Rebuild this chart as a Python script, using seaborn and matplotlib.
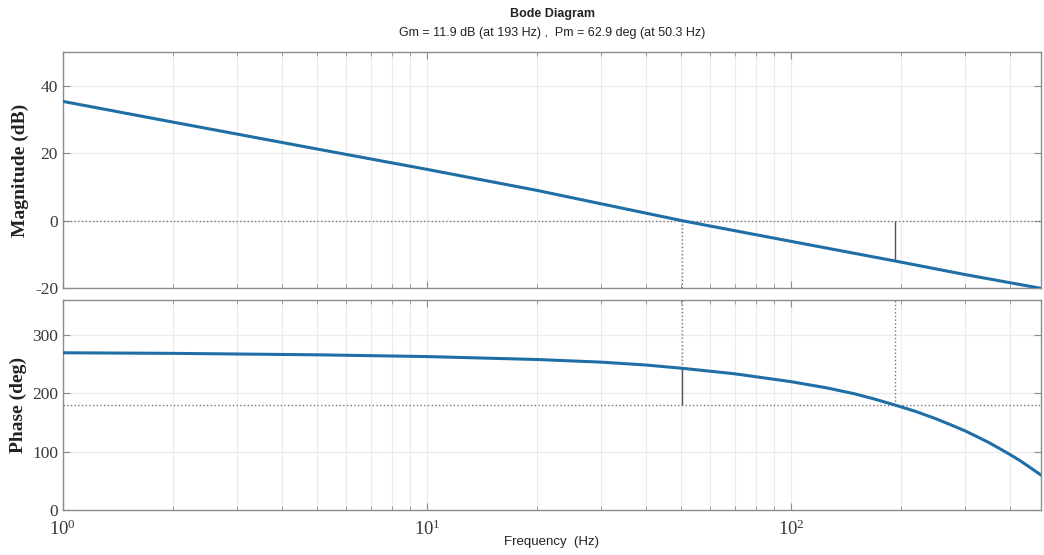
import numpy as np
import pandas as pd
import matplotlib
matplotlib.use("Agg")
import matplotlib.pyplot as plt
import matplotlib.ticker as mticker
import seaborn as sns

# values
freq_mag = [1, 2, 5, 10, 20, 50.3, 100, 193, 300, 486]
mag_db = [35.3, 29.2, 21.2, 15.2, 9.0, 0.0, -6.1, -11.9, -15.9, -20.0]

freq_phase = [1, 2, 5, 10, 20, 30, 40, 50.3, 70, 100, 125, 150, 170, 193, 220, 250,
              275, 300, 325, 350, 375, 400, 425, 450, 486]
phase_deg = [269.5, 268.5, 266, 263, 258, 253.5, 248.5, 242.9, 233.5, 220, 209.5, 199, 190, 180,
             169, 156.5, 146, 136, 125.5, 115.5, 105, 95, 85, 74.5, 60]

xtick_vals = [1, 10, 100]
xtick_labels = [r'$10^{0}$', r'$10^{1}$', r'$10^{2}$']

gm_db, gm_freq = 11.9, 193
pm_deg, pm_freq = 62.9, 50.3

sns.set_style("ticks")
plt.rcParams['mathtext.fontset'] = 'custom'
plt.rcParams['mathtext.rm'] = 'Liberation Serif'
plt.rcParams['mathtext.it'] = 'Liberation Serif:italic'

line_col = '#1f6ea6'
grid_col = '#ebebeb'
frame_col = '#8c8c8c'
text_col = '#3a3a3a'

fig = plt.figure(figsize=(10.44, 5.55), dpi=100)
ax1 = fig.add_axes([0.0603, 0.4805, 0.9367, 0.4263])
ax2 = fig.add_axes([0.0603, 0.0811, 0.9367, 0.3784])

mag_df = pd.DataFrame({'f': freq_mag, 'v': mag_db})
ph_df = pd.DataFrame({'f': freq_phase, 'v': phase_deg})

sns.lineplot(data=mag_df, x='f', y='v', ax=ax1, color=line_col, linewidth=2.2, zorder=5)
sns.lineplot(data=ph_df, x='f', y='v', ax=ax2, color=line_col, linewidth=2.2, zorder=5)

xmax = 486
for ax in (ax1, ax2):
    ax.set_xscale('log')
    ax.set_xlim(1, xmax)
    ax.grid(True, which='both', color=grid_col, linewidth=0.8)
    ax.set_axisbelow(True)
    for s in ax.spines.values():
        s.set_color(frame_col)
        s.set_linewidth(1.0)
    ax.tick_params(which='both', direction='in', top=True, right=True, color=frame_col,
                   labelcolor=text_col, labelsize=12.5)
    ax.tick_params(which='major', length=5)
    ax.tick_params(which='minor', length=3)
    ax.xaxis.set_minor_locator(mticker.LogLocator(base=10, subs=np.arange(2, 10)))
    ax.xaxis.set_minor_formatter(mticker.NullFormatter())
    ax.set_xlabel('')

# magnitude panel
ax1.set_ylim(-20, 50)
ax1.set_yticks([-20, 0, 20, 40])
ax1.set_yticklabels(['-20', '0', '20', '40'], family='Liberation Serif')
ax1.set_xticks(xtick_vals)
ax1.tick_params(labelbottom=False)
ax1.axhline(0, color='#777777', linestyle=':', linewidth=1.0, zorder=3)
ax1.vlines(pm_freq, -20, 0, color='#777777', linestyle=':', linewidth=1.0, zorder=3)
ax1.vlines(gm_freq, -gm_db, 0, color='#555555', linewidth=1.0, zorder=3)
ax1.set_ylabel('Magnitude (dB)', family='Liberation Serif', fontweight='bold',
               fontsize=14, color='#222222', labelpad=4)

# phase panel
ax2.set_ylim(0, 360)
ax2.set_yticks([0, 100, 200, 300])
ax2.set_yticklabels(['0', '100', '200', '300'], family='Liberation Serif')
ax2.axhline(180, color='#777777', linestyle=':', linewidth=1.0, zorder=3)
ax2.vlines(gm_freq, 180, 360, color='#777777', linestyle=':', linewidth=1.0, zorder=3)
ax2.vlines(pm_freq, 180 + pm_deg, 360, color='#777777', linestyle=':', linewidth=1.0, zorder=3)
ax2.vlines(pm_freq, 180, 180 + pm_deg, color='#555555', linewidth=1.0, zorder=3)
ax2.set_ylabel('Phase (deg)', family='Liberation Serif', fontweight='bold',
               fontsize=14, color='#222222', labelpad=4)
ax2.set_xticks(xtick_vals)
ax2.set_xticklabels(xtick_labels, family='Liberation Serif', fontsize=13.5)
ax2.tick_params(axis='x', pad=7)
ax2.set_xlabel('Frequency  (Hz)', family='Liberation Sans', fontsize=9.5, color='#222222', labelpad=-2)

fig.text(0.529, 0.975, 'Bode Diagram', ha='center', va='center', family='Liberation Sans',
         fontweight='bold', fontsize=9, color='#222222')
fig.text(0.529, 0.940, 'Gm = 11.9 dB (at 193 Hz) ,  Pm = 62.9 deg (at 50.3 Hz)', ha='center',
         va='center', family='Liberation Sans', fontsize=9, color='#222222')

fig.savefig('out.png', dpi=100)
